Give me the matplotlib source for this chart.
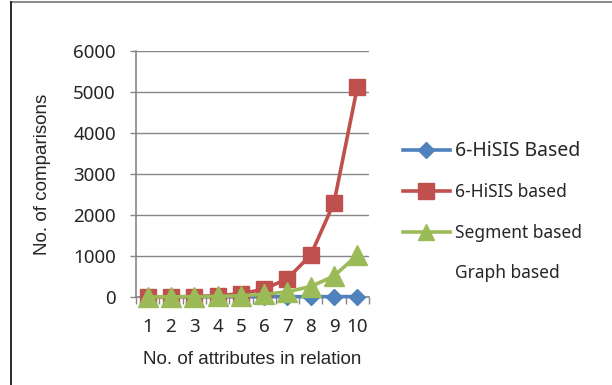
import matplotlib
matplotlib.use("Agg")
import matplotlib.pyplot as plt
from matplotlib.lines import Line2D
from matplotlib.ticker import FixedLocator

# number of attributes in the relation
attributes = [1, 2, 3, 4, 5, 6, 7, 8, 9, 10]

# comparisons needed by each approach
hisis_upper = [1, 2, 3, 4, 5, 6, 7, 8, 9, 10]
hisis_lower = [1, 4, 12, 32, 80, 192, 448, 1024, 2304, 5120]
segment = [2, 4, 8, 16, 32, 64, 128, 256, 512, 1024]

legend_labels = ["6-HiSIS Based", "6-HiSIS based", "Segment based", "Graph based"]
y_ticks = [0, 1000, 2000, 3000, 4000, 5000, 6000]

BLUE = "#4F81BD"
RED = "#C0504D"
GREEN = "#9BBB59"
AXIS_GRAY = "#868686"
TEXT = "#262626"

fig = plt.figure(figsize=(6.12, 3.85), dpi=100)
ax = fig.add_axes([136 / 612, 1 - 297 / 385, 233 / 612, 246 / 385])

ax.plot(attributes, hisis_upper, color=BLUE, lw=2.6, marker="D", ms=8.5,
        clip_on=False, zorder=3)
ax.plot(attributes, hisis_lower, color=RED, lw=2.6, marker="s", ms=12,
        clip_on=False, zorder=4)
ax.plot(attributes, segment, color=GREEN, lw=2.6, marker="^", ms=14,
        clip_on=False, zorder=5)

ax.set_xlim(0.5, 10.5)
ax.set_ylim(0, 6000)
ax.set_yticks(y_ticks)
ax.set_xticks(attributes)
ax.xaxis.set_minor_locator(FixedLocator([a + 0.5 for a in [0] + attributes]))
ax.tick_params(axis="x", which="major", length=0, pad=15, labelsize=13.5,
               labelcolor=TEXT)
ax.tick_params(axis="x", which="minor", length=5, color=AXIS_GRAY, width=1)
ax.tick_params(axis="y", length=4.5, color=AXIS_GRAY, width=1, pad=10,
               labelsize=13.5, labelcolor=TEXT)
for lab in ax.get_xticklabels() + ax.get_yticklabels():
    lab.set_family("Noto Sans")

ax.grid(axis="y", color=AXIS_GRAY, lw=1)
ax.set_axisbelow(True)
for side in ("top", "right"):
    ax.spines[side].set_visible(False)
for side in ("left", "bottom"):
    ax.spines[side].set_color(AXIS_GRAY)
    ax.spines[side].set_linewidth(1.2)

ax.set_xlabel("No. of attributes in relation", fontsize=13.5, family="Liberation Sans",
              color=TEXT, labelpad=11)
ax.set_ylabel("No. of comparisons", fontsize=13.5, family="Liberation Sans",
              color=TEXT, labelpad=16)

handles = [
    Line2D([], [], color=BLUE, lw=2.6, marker="D", ms=8.5),
    Line2D([], [], color=RED, lw=2.6, marker="s", ms=12),
    Line2D([], [], color=GREEN, lw=2.6, marker="^", ms=12),
    Line2D([], [], color="none"),
]
leg = fig.legend(handles, legend_labels, loc="upper left",
                 bbox_to_anchor=(387 / 612, 1 - 125 / 385), frameon=False,
                 handlelength=2.75, handletextpad=0.25, labelspacing=1.3,
                 prop={"family": "Noto Sans", "size": 12.5})
leg.get_texts()[0].set_fontsize(14)
for t in leg.get_texts():
    t.set_color(TEXT)

# outer frame: only top and left edges are drawn
fig.add_artist(Line2D([11 / 612, 1], [1 - 2 / 385, 1 - 2 / 385],
                      color="#8c8c8c", lw=1.5, transform=fig.transFigure))
fig.add_artist(Line2D([11 / 612, 11 / 612], [0, 1 - 2 / 385],
                      color="#1a1a1a", lw=1.3, transform=fig.transFigure))

fig.savefig("out.png", dpi=100, facecolor="white")
